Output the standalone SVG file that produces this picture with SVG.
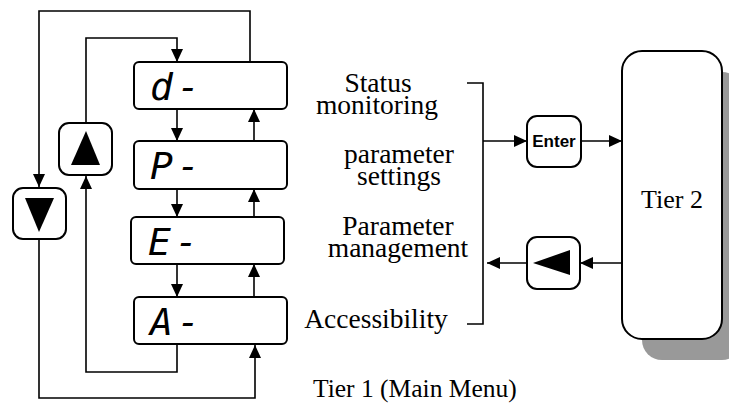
<svg xmlns="http://www.w3.org/2000/svg" width="729" height="405" viewBox="0 0 729 405">
<defs>
<marker id="ah" markerUnits="userSpaceOnUse" markerWidth="13" markerHeight="12" refX="13" refY="6" orient="auto">
<path d="M0,0 L13,6 L0,12 z" fill="#000"/>
</marker>
<style>
.box{fill:#fff;stroke:#000;stroke-width:2}
.seg{font-family:"DejaVu Sans Mono",monospace;font-style:italic;font-size:38px;fill:#000;letter-spacing:4px}
.lbl{font-family:"Liberation Serif","Times New Roman",serif;font-size:27.5px;fill:#000;text-anchor:middle}
.con{fill:none;stroke:#000;stroke-width:1.6}
.arr{marker-end:url(#ah)}
</style>
</defs>
<rect width="729" height="405" fill="#fff"/>
<g id="connectors">
<path class="con arr" d="M250,62 V11 H39 V187"/>
<path class="con arr" d="M39,238 V398 H255 V345"/>
<path class="con arr" d="M177,344 V372 H86 V176"/>
<path class="con arr" d="M86,123 V38 H177 V62"/>
<path class="con arr" d="M177,109 V141"/>
<path class="con arr" d="M177,189 V217"/>
<path class="con arr" d="M177,264 V297"/>
<path class="con arr" d="M254,141 V109"/>
<path class="con arr" d="M254,217 V189"/>
<path class="con arr" d="M254,297 V264"/>
<path class="con" d="M467,83 H483 V324 H467"/>
<path class="con arr" d="M483,141 H527"/>
<path class="con arr" d="M581,141 H622"/>
<path class="con arr" d="M622,263 H580"/>
<path class="con arr" d="M527,263 H487"/>
</g>
<g id="node-d">
<rect class="box" x="134" y="62" width="153" height="47" rx="5"/>
<text class="seg" x="150" y="100">d-</text>
</g>
<g id="node-p">
<rect class="box" x="134" y="141" width="153" height="48" rx="5"/>
<text class="seg" x="150" y="179">P-</text>
</g>
<g id="node-e">
<rect class="box" x="131" y="217" width="153" height="47" rx="5"/>
<text class="seg" x="148" y="255">E-</text>
</g>
<g id="node-a">
<rect class="box" x="134" y="297" width="153" height="47" rx="5"/>
<text class="seg" x="150" y="335">A-</text>
</g>
<g id="btn-up">
<rect class="box" x="59" y="123" width="53" height="52" rx="10"/>
<path d="M86,131 L100,165 L71,165 z" fill="#000"/>
</g>
<g id="btn-down">
<rect class="box" x="13" y="188" width="53" height="51" rx="10"/>
<path d="M25,198 L54,198 L39,232 z" fill="#000"/>
</g>
<g id="labels">
<text class="lbl"><tspan x="378" y="92">Status</tspan><tspan x="377" y="114">monitoring</tspan></text>
<text class="lbl"><tspan x="399" y="163">parameter</tspan><tspan x="399" y="185">settings</tspan></text>
<text class="lbl"><tspan x="398" y="235">Parameter</tspan><tspan x="398" y="257">management</tspan></text>
<text class="lbl" x="376" y="328">Accessibility</text>
<text class="lbl" x="313" y="397" style="text-anchor:start;font-size:25.5px">Tier 1 (Main Menu)</text>
</g>
<g id="btn-enter">
<rect class="box" x="527" y="116" width="54" height="51" rx="10"/>
<text x="554" y="147" font-family="Liberation Sans, Arial, sans-serif" font-weight="bold" font-size="17" text-anchor="middle">Enter</text>
</g>
<g id="btn-back">
<rect class="box" x="527" y="237" width="53" height="52" rx="10"/>
<path d="M533,263 L570,250 L570,275 z" fill="#000"/>
</g>
<g id="tier2">
<rect x="642" y="72" width="100" height="288" rx="20" fill="#999"/>
<rect class="box" x="622" y="51" width="100" height="288" rx="20"/>
<text class="lbl" x="672" y="208" style="font-size:26px">Tier 2</text>
</g>
</svg>
